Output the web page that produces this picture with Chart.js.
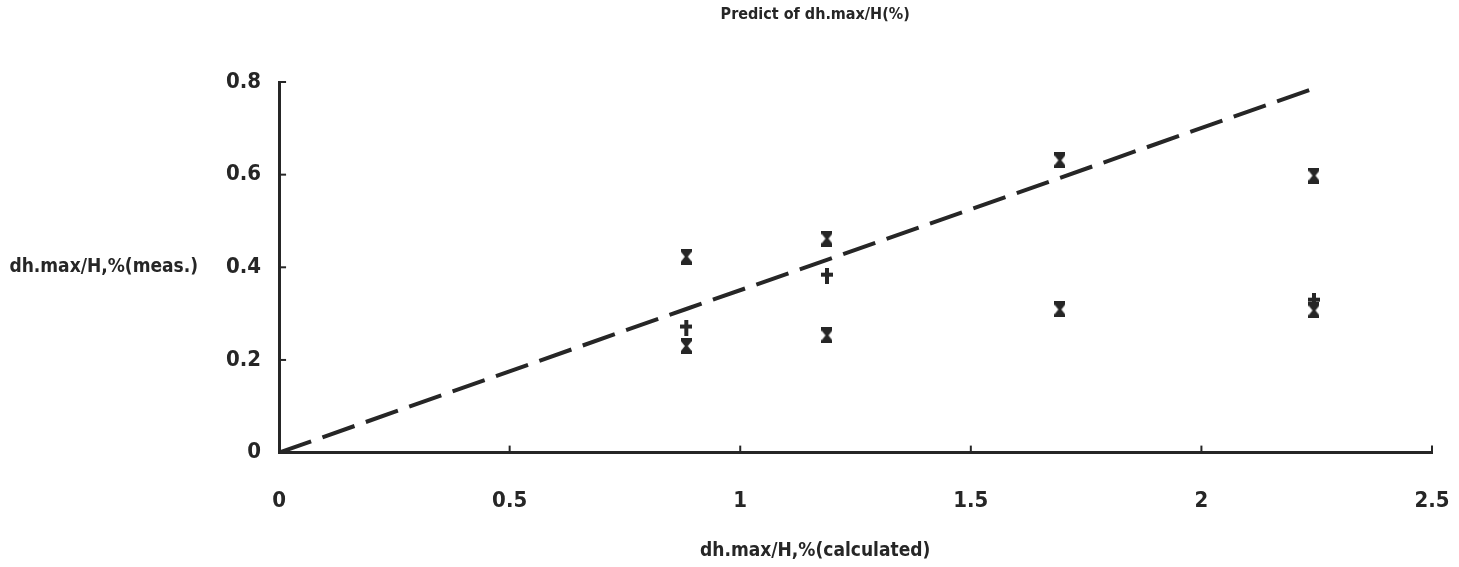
<!DOCTYPE html>
<html>
<head>
<meta charset="utf-8">
<script src="https://cdn.jsdelivr.net/npm/chart.js@4.4.0/dist/chart.umd.min.js"></script>
<style>
  html, body { margin: 0; padding: 0; background: #fff; }
  #grafico-container { width: 1459px; height: 567px; }
</style>
</head>
<body>
<div id="grafico-container"><canvas id="grafico"></canvas></div>
<script>
// dados do gráfico
const titulo = "Predict of dh.max/H(%)";
const rotuloX = "dh.max/H,%(calculated)";
const rotuloY = "dh.max/H,%(meas.)";

const calculado = [0.883, 1.188, 1.693, 2.244];
const medidoAlto = [0.423, 0.462, 0.631, 0.598];
const medidoBaixo = [0.23, 0.253, 0.309, 0.307];
const medidoCruz = [0.27, 0.382, null, 0.328];

const retaX = [0, 0.883, 1.188, 1.693, 2.244];
const retaY = [0, 0.31, 0.416, 0.593, 0.786];

const ticksX = [0, 0.5, 1, 1.5, 2, 2.5];
const ticksY = [0, 0.2, 0.4, 0.6, 0.8];

const fonte = "'Liberation Sans Narrow', 'DejaVu Sans Condensed', sans-serif";
const tinta = "#262626";

const pares = (xs, ys) => xs.map((v, i) => ({ x: v, y: ys[i] })).filter(p => p.y !== null);

// marcador em forma de ampulheta (o "x" da impressora)
function criarAmpulheta() {
    const c = document.createElement("canvas");
    c.width = 11; c.height = 16;
    const g = c.getContext("2d");
    g.fillStyle = tinta;
    g.beginPath();
    g.moveTo(0, 0); g.lineTo(11, 0); g.lineTo(11, 3); g.lineTo(7, 8);
    g.lineTo(11, 13); g.lineTo(11, 16); g.lineTo(0, 16); g.lineTo(0, 13);
    g.lineTo(4, 8); g.lineTo(0, 3);
    g.closePath();
    g.fill();
    return c;
}

function criarCruz() {
    const c = document.createElement("canvas");
    c.width = 12; c.height = 16;
    const g = c.getContext("2d");
    g.fillStyle = tinta;
    g.fillRect(4, 0, 4, 16);
    g.fillRect(0, 5, 12, 4);
    return c;
}

const ampulheta = criarAmpulheta();
const cruz = criarCruz();

// marcas dos eixos voltadas para dentro e textos soltos
const detalhes = {
    id: "detalhes",
    afterDraw(chart) {
        const { ctx, chartArea, scales: { x, y } } = chart;
        ctx.save();
        ctx.strokeStyle = tinta;
        ctx.lineWidth = 2;
        x.ticks.forEach(t => {
            const px = x.getPixelForValue(t.value);
            ctx.beginPath();
            ctx.moveTo(px, y.bottom);
            ctx.lineTo(px, y.bottom - 7);
            ctx.stroke();
        });
        y.ticks.forEach(t => {
            const py = y.getPixelForValue(t.value);
            ctx.beginPath();
            ctx.moveTo(x.left, py);
            ctx.lineTo(x.left + 7, py);
            ctx.stroke();
        });

        const centro = chartArea.left + (chartArea.right - chartArea.left) * 0.465;
        ctx.fillStyle = tinta;
        ctx.textBaseline = "middle";

        ctx.font = "bold 16px " + fonte;
        ctx.textAlign = "center";
        ctx.fillText(titulo, centro, 15);

        ctx.font = "bold 19px " + fonte;
        ctx.fillText(rotuloX, centro, 551);

        ctx.textAlign = "right";
        ctx.fillText(rotuloY, chartArea.left - 81, y.getPixelForValue(0.4));
        ctx.restore();
    }
};

const ctx = document.getElementById("grafico");

new Chart(ctx, {
    type: "scatter",
    data: {
        datasets: [
            {
                label: "previsto",
                type: "line",
                data: pares(retaX, retaY),
                borderColor: tinta,
                borderWidth: 4,
                borderDash: [34, 12],
                pointRadius: 0,
                fill: false
            },
            {
                label: "medido (alto)",
                data: pares(calculado, medidoAlto),
                pointStyle: ampulheta
            },
            {
                label: "medido (baixo)",
                data: pares(calculado, medidoBaixo),
                pointStyle: ampulheta
            },
            {
                label: "medido (+)",
                data: pares(calculado, medidoCruz),
                pointStyle: cruz
            }
        ]
    },
    options: {
        responsive: true,
        maintainAspectRatio: false,
        animation: false,
        layout: {
            padding: { left: 216, right: 27, top: 82, bottom: 26 }
        },
        plugins: {
            legend: { display: false },
            title: { display: false },
            tooltip: { enabled: false }
        },
        scales: {
            x: {
                type: "linear",
                min: 0,
                max: 2.5,
                afterBuildTicks: s => { s.ticks = ticksX.map(v => ({ value: v })); },
                afterFit: s => { s.paddingLeft = 0; s.paddingRight = 0; },
                grid: { display: false },
                border: { display: true, color: tinta, width: 3 },
                ticks: {
                    color: tinta,
                    padding: 27,
                    font: { family: fonte, size: 22, weight: "bold" },
                    callback: v => String(v)
                }
            },
            y: {
                type: "linear",
                min: 0,
                max: 0.8,
                afterBuildTicks: s => { s.ticks = ticksY.map(v => ({ value: v })); },
                grid: { display: false },
                border: { display: true, color: tinta, width: 3 },
                ticks: {
                    color: tinta,
                    padding: 10,
                    font: { family: fonte, size: 22, weight: "bold" },
                    callback: v => String(v)
                }
            }
        }
    },
    plugins: [detalhes]
});
</script>
</body>
</html>
